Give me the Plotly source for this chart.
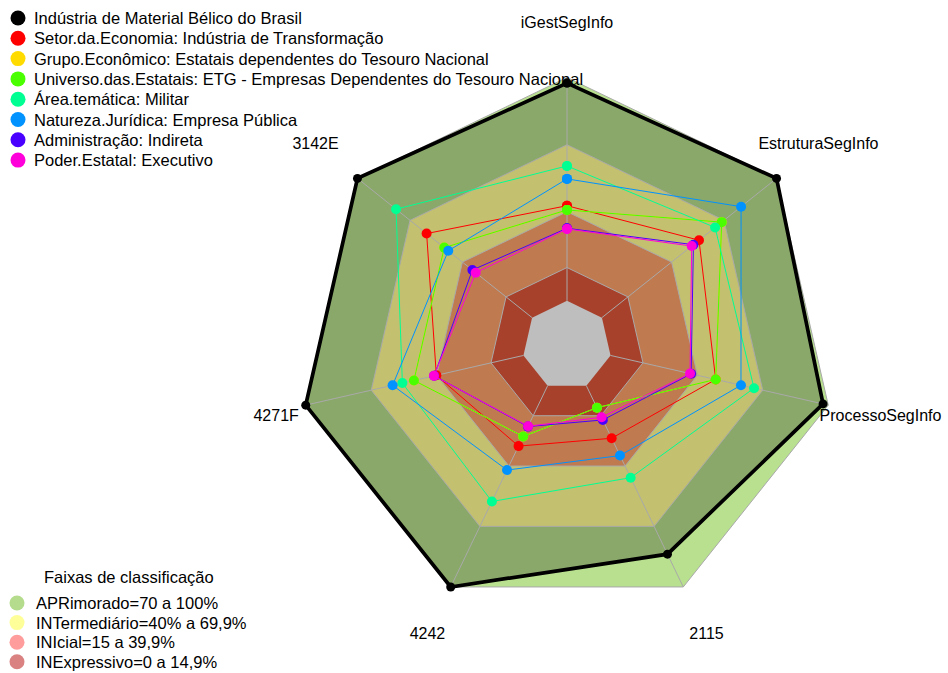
import plotly.graph_objects as go

# ---- data ----
categories = ["iGestSegInfo", "EstruturaSegInfo", "ProcessoSegInfo", "2115", "4242", "4271F", "3142E"]

series_names = [
    "Indústria de Material Bélico do Brasil",
    "Setor.da.Economia: Indústria de Transformação",
    "Grupo.Econômico: Estatais dependentes do Tesouro Nacional",
    "Universo.das.Estatais: ETG - Empresas Dependentes do Tesouro Nacional",
    "Área.temática: Militar",
    "Natureza.Jurídica: Empresa Pública",
    "Administração: Indireta",
    "Poder.Estatal: Executivo",
]
industria = [97.5, 100, 97.6, 83.7, 100, 100, 100]
setor = [42.6, 55.6, 48.3, 26.1, 30.0, 40.0, 60.4]
grupo = [40.7, 68.6, 48.3, 10.9, 25.2, 50.3, 50.3]
universo = [40.7, 68.6, 48.3, 10.9, 25.2, 50.3, 50.3]
militar = [60.4, 64.8, 65.9, 45.7, 57.5, 55.6, 77.9]
natureza = [54.6, 79.7, 59.9, 34.7, 41.9, 60.1, 48.0]
administracao = [32.5, 52.4, 37.0, 17.0, 20.3, 41.0, 34.2]
poder = [32.2, 51.4, 36.5, 15.7, 20.1, 41.1, 32.3]
series_values = [industria, setor, grupo, universo, militar, natureza, administracao, poder]

band_names = ["APRimorado=70 a 100%", "INTermediário=40% a 69,9%", "INIcial=15 a 39,9%", "INExpressivo=0 a 14,9%"]
band_upper = [100, 69.9, 39.9, 14.9]
legend_title2 = "Faixas de classificação"

# ---- styles ----
series_colors = ["#000000", "#FF0000", "#FFDB00", "#49FF00", "#00FF92", "#0092FF", "#4900FF", "#FF00DB"]
band_fill = ["#B8E08F", "#C3C070", "#C07A50", "#A8412C"]
olive_fill = "#8AA86A"
hole_fill = "#BEBEBE"
band_legend_colors = ["#B4DC8C", "#FFFF99", "#FF9C9C", "#DA8282"]
grid_col = "#A9A9A9"
FONT = "Liberation Sans, Arial, sans-serif"

W, H = 948, 673
cx, cy = 567, 345.5
R100 = 268.0
RMAX = 124  # label radius value (1.2 * outer)
Rpx = R100 * 1.2
label_pos = ["middle center", "middle center", "middle center", "middle center",
             "middle center", "middle right", "middle center"]


def closed(v):
    return list(v) + [v[0]]


theta_c = closed(categories)

fig = go.Figure()

# outer band (100)
fig.add_trace(go.Scatterpolar(r=closed([band_upper[0]] * len(categories)), theta=theta_c,
                              mode="lines", fill="toself", fillcolor=band_fill[0],
                              line=dict(color=grid_col, width=1), showlegend=False, hoverinfo="skip"))
# region inside the reference series
fig.add_trace(go.Scatterpolar(r=closed(industria), theta=theta_c, mode="none", fill="toself",
                              fillcolor=olive_fill, showlegend=False, hoverinfo="skip"))
# inner bands
for lvl, col in zip(band_upper[1:], band_fill[1:]):
    fig.add_trace(go.Scatterpolar(r=closed([lvl] * len(categories)), theta=theta_c,
                                  mode="lines", fill="toself", fillcolor=col,
                                  line=dict(color=grid_col, width=1), showlegend=False, hoverinfo="skip"))
# center hole
fig.add_trace(go.Scatterpolar(r=closed([0] * len(categories)), theta=theta_c, mode="none", fill="toself",
                              fillcolor=hole_fill, showlegend=False, hoverinfo="skip"))
# spokes
sr, st = [], []
for c in categories:
    sr += [0, 100, None]
    st += [c, c, None]
fig.add_trace(go.Scatterpolar(r=sr, theta=st, mode="lines", line=dict(color=grid_col, width=1),
                              showlegend=False, hoverinfo="skip", connectgaps=False))

# series
for i, (name, vals, col) in enumerate(zip(series_names, series_values, series_colors)):
    if i == 0:
        line = dict(color=col, width=3.7)
        msize = 9
    else:
        line = dict(color=col, width=1)
        msize = 10
    fig.add_trace(go.Scatterpolar(r=closed(vals), theta=theta_c, mode="lines+markers",
                                  line=line, marker=dict(size=msize, color=col),
                                  name=name, showlegend=False))

# axis labels
fig.add_trace(go.Scatterpolar(r=[RMAX] * len(categories), theta=categories, mode="text",
                              text=categories, textposition=label_pos,
                              textfont=dict(size=16, color="#000000", family=FONT),
                              cliponaxis=False, showlegend=False, hoverinfo="skip"))

# ---- legends (drawn on a pixel-scaled hidden cartesian layer) ----
LEG1_X, LEG1_TX, LEG1_Y0, LEG1_DY = 18, 32, 18, 20.3
LEG2_X, LEG2_TX, LEG2_Y0, LEG2_DY = 17, 34, 603, 19.6
LEG2_TITLE_X, LEG2_TITLE_Y = 129, 577

leg1_y = [LEG1_Y0 + LEG1_DY * i for i in range(len(series_names))]
leg2_y = [LEG2_Y0 + LEG2_DY * i for i in range(len(band_names))]

fig.add_trace(go.Scatter(x=[LEG1_X] * len(series_names), y=leg1_y, mode="markers",
                         marker=dict(size=15, color=series_colors), showlegend=False,
                         hoverinfo="skip", xaxis="x", yaxis="y", cliponaxis=False))
fig.add_trace(go.Scatter(x=[LEG2_X] * len(band_names), y=leg2_y, mode="markers",
                         marker=dict(size=15, color=band_legend_colors), showlegend=False,
                         hoverinfo="skip", xaxis="x", yaxis="y", cliponaxis=False))

annotations = []
for name, y in zip(series_names, leg1_y):
    annotations.append(dict(x=LEG1_TX, y=y, xref="x", yref="y", text=name, showarrow=False,
                            xanchor="left", yanchor="middle", font=dict(size=16.5, family=FONT)))
for name, y in zip(band_names, leg2_y):
    annotations.append(dict(x=LEG2_TX, y=y, xref="x", yref="y", text=name, showarrow=False,
                            xanchor="left", yanchor="middle", font=dict(size=16.5, family=FONT)))
annotations.append(dict(x=LEG2_TITLE_X, y=LEG2_TITLE_Y, xref="x", yref="y", text=legend_title2,
                        showarrow=False, xanchor="center", yanchor="middle",
                        font=dict(size=16.5, family=FONT)))

fig.update_layout(
    width=W, height=H,
    margin=dict(l=0, r=0, t=0, b=0, autoexpand=False),
    paper_bgcolor="white", plot_bgcolor="rgba(0,0,0,0)",
    font=dict(family=FONT, size=16, color="#000000"),
    xaxis=dict(range=[0, W], domain=[0, 1], visible=False, fixedrange=True),
    yaxis=dict(range=[H, 0], domain=[0, 1], visible=False, fixedrange=True),
    polar=dict(
        domain=dict(x=[(cx - Rpx) / W, (cx + Rpx) / W],
                    y=[((H - cy) - Rpx) / H, ((H - cy) + Rpx) / H]),
        bgcolor="rgba(0,0,0,0)",
        radialaxis=dict(range=[-20, RMAX], visible=False),
        angularaxis=dict(direction="clockwise", rotation=90, categoryorder="array",
                         categoryarray=categories, showline=False, showgrid=False,
                         showticklabels=False, ticks=""),
    ),
    annotations=annotations,
    showlegend=False,
)

fig.write_html("out.html", config={"displayModeBar": False},
               post_script="document.body.style.margin='0px';document.body.style.overflow='hidden';")
